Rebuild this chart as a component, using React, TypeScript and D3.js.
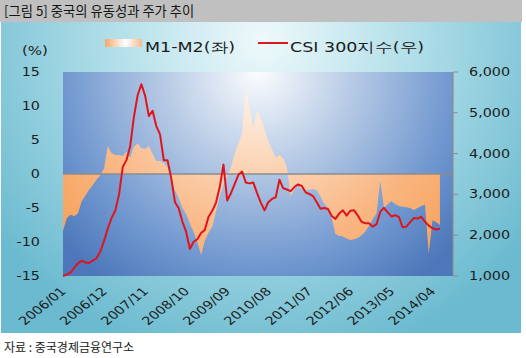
import React from "react";
import * as d3 from "d3";

const TITLE = "[그림 5] 중국의 유동성과 주가 추이";
const SOURCE = "자료 : 중국경제금융연구소";
const LEGEND_AREA = "M1-M2(좌)";
const LEGEND_LINE = "CSI 300지수(우)";
const UNIT_LEFT = "(%)";

const xTickLabels = ["2006/01", "2006/12", "2007/11", "2008/10", "2009/09", "2010/08", "2011/07", "2012/06", "2013/05", "2014/04"];
const leftTicks = [15, 10, 5, 0, -5, -10, -15];
const rightTicks = [6000, 5000, 4000, 3000, 2000, 1000];

// M1-M2 growth gap (%), monthly from 2006/01
const m1m2 = [
  -8.4, -6.5, -6.0, -6.2, -5.8, -4.0, -3.2, -2.3, -1.6, -0.8, -0.2, 0.8,
  4.1, 3.1, 2.75, 2.8, 2.6, 3.3, 2.4, 4.0, 4.5, 3.8, 3.7, 4.1,
  3.0, 1.9, 1.9, 1.6, 1.0, -1.0, -2.4, -3.5, -5.0, -5.9, -7.3, -8.5,
  -10.0, -11.9, -9.8, -8.6, -7.8, -5.5, -3.2, -1.5, -0.3, 1.0, 3.0, 4.5,
  6.0, 12.6, 9.7, 6.8, 9.5, 8.2, 6.6, 4.8, 3.6, 2.4, 2.8, 2.3,
  1.0, -3.3, -2.2, -1.7, -2.2, -2.4, -2.3, -2.2, -2.4, -3.3, -4.4, -5.0,
  -6.5, -8.8, -9.1, -9.2, -9.5, -9.7, -9.6, -9.4, -9.0, -8.5, -7.6, -6.6,
  -5.8, -1.0, -5.0, -4.4, -4.0, -4.4, -4.7, -4.8, -4.9, -5.0, -5.3, -5.0,
  -4.7, -4.5, -11.7, -6.8, -7.1, -7.5,
];

// CSI 300 index, monthly from 2006/01
const csi300 = [
  1000, 1035, 1085, 1200, 1310, 1375, 1330, 1320, 1380, 1440, 1600, 1860,
  2165, 2420, 2600, 2990, 3670, 3840, 4180, 4900, 5430, 5700, 5420, 4920,
  5050, 4675, 4470, 3840, 3840, 3400, 2810, 2660, 2330, 2080, 1660, 1840,
  1900, 2055, 2130, 2450, 2600, 2800, 3180, 3730, 2850, 3030, 3250, 3480,
  3560, 3290, 3270, 3290, 3030, 2800, 2610, 2810, 2890, 2930, 3360, 3150,
  3120, 3080, 3180, 3245, 3205, 3050, 3010, 2960, 2810, 2650, 2665, 2640,
  2470, 2400, 2530, 2610, 2480, 2600, 2610, 2480, 2330, 2290, 2290, 2210,
  2270, 2570, 2670, 2560, 2460, 2490, 2450, 2195, 2210, 2320, 2420, 2410,
  2450, 2330, 2235, 2170, 2140, 2160,
];

const months: string[] = csi300.map((_, k) => {
  const yr = 2006 + Math.floor(k / 12);
  const mo = (k % 12) + 1;
  return `${yr}/${String(mo).padStart(2, "0")}`;
});

const W = 526;
const H = 358;
const PL = 63, PR = 453, PT = 72, PB = 276;
const SX = 1.25; // horizontal stretch of the original picture
const FONT = "'DejaVu Sans', Verdana, sans-serif";
const KFONT = "'Noto Sans CJK KR', 'Noto Sans', sans-serif";

function SText(props: { x: number; y: number; anchor?: string; size: number; rotate?: number; children: React.ReactNode; fill?: string; family?: string }) {
  const { x, y, anchor = "start", size, rotate, children, fill = "#1c1c1c", family = FONT } = props;
  return (
    <text
      transform={`translate(${x},${y}) scale(${SX},1)${rotate ? ` rotate(${rotate})` : ""}`}
      textAnchor={anchor}
      fontSize={size}
      fontFamily={family}
      fill={fill}
    >
      {children}
    </text>
  );
}

export default function App() {
  const x = d3.scaleLinear().domain([0, 104.5]).range([PL, PR]);
  const yL = d3.scaleLinear().domain([-15, 15]).range([PB, PT]);
  const yR = d3.scaleLinear().domain([1000, 6000]).range([PB, PT]);

  const area = d3
    .area<number>()
    .x((_, i) => x(i))
    .y0(() => yL(0))
    .y1((d) => yL(d));
  const line = d3
    .line<number>()
    .x((_, i) => x(i))
    .y((d) => yR(d));

  return (
    <svg width={W} height={H} style={{ position: "absolute", left: 0, top: 0, background: "#fff" }}>
      <defs>
        <radialGradient id="panelG" gradientUnits="userSpaceOnUse" cx={262} cy={40} r={330}>
          <stop offset="0" stopColor="#eef9fb" />
          <stop offset="0.45" stopColor="#b2dfe9" />
          <stop offset="1" stopColor="#6bbacf" />
        </radialGradient>
        <radialGradient id="plotG" gradientUnits="userSpaceOnUse" cx={258} cy={72} r={260}>
          <stop offset="0" stopColor="#fbfcfe" />
          <stop offset="0.35" stopColor="#b9cce6" />
          <stop offset="0.75" stopColor="#7097cf" />
          <stop offset="1" stopColor="#4d77ba" />
        </radialGradient>
        <radialGradient id="areaG" gradientUnits="userSpaceOnUse" cx={258} cy={72} r={250}>
          <stop offset="0" stopColor="#fffaf6" />
          <stop offset="0.35" stopColor="#fbd7ba" />
          <stop offset="0.7" stopColor="#f9b682" />
          <stop offset="1" stopColor="#f7a35e" />
        </radialGradient>
        <linearGradient id="swatchG" x1="0" x2="1" y1="0" y2="0">
          <stop offset="0" stopColor="#f4a86a" />
          <stop offset="0.55" stopColor="#ffffff" />
          <stop offset="1" stopColor="#f6bb8e" />
        </linearGradient>
      </defs>

      <rect x={0} y={0} width={522} height={22} fill="#c0c0c0" />
      <text x={4} y={16} fontSize={13.3} fontFamily={KFONT} fill="#141414">{TITLE}</text>

      <rect x={1} y={22} width={520} height={311} fill="url(#panelG)" />

      <rect x={PL} y={PT} width={PR - PL} height={PB - PT} fill="url(#plotG)" />
      <path d={area(m1m2) ?? ""} fill="url(#areaG)" />
      <line x1={PL} x2={PR} y1={yL(0)} y2={yL(0)} stroke="#8d8d8d" strokeWidth={1.5} />
      <line x1={PR} x2={PR} y1={PT} y2={PB} stroke="#8d8d8d" strokeWidth={1.2} />
      {rightTicks.map((t) => (
        <line key={t} x1={PR} x2={PR + 5} y1={yR(t)} y2={yR(t)} stroke="#8d8d8d" strokeWidth={1} />
      ))}
      <path d={line(csi300) ?? ""} fill="none" stroke="#e0151b" strokeWidth={2} strokeLinejoin="round" />

      {leftTicks.map((t) => (
        <SText key={t} x={40} y={yL(t) + 4} anchor="end" size={11.5}>{String(t)}</SText>
      ))}
      {rightTicks.map((t) => (
        <SText key={t} x={469} y={yR(t) + 4} size={11.5}>{d3.format(",")(t)}</SText>
      ))}
      <SText x={22} y={55} size={12}>{UNIT_LEFT}</SText>

      {xTickLabels.map((lab) => {
        const i = months.indexOf(lab);
        return (
          <SText key={lab} x={x(i) + 4} y={292} anchor="end" size={11.5} rotate={-45}>{lab}</SText>
        );
      })}

      <rect x={105} y={39} width={37} height={8} fill="url(#swatchG)" />
      <SText x={145} y={52} size={14}>{LEGEND_AREA}</SText>
      <line x1={258} x2={288} y1={43} y2={43} stroke="#e0151b" strokeWidth={2} />
      <SText x={290} y={52} size={14}>{LEGEND_LINE}</SText>

      <text x={4} y={352} fontSize={12} fontFamily={KFONT} fill="#1a1a1a">{SOURCE}</text>
    </svg>
  );
}
